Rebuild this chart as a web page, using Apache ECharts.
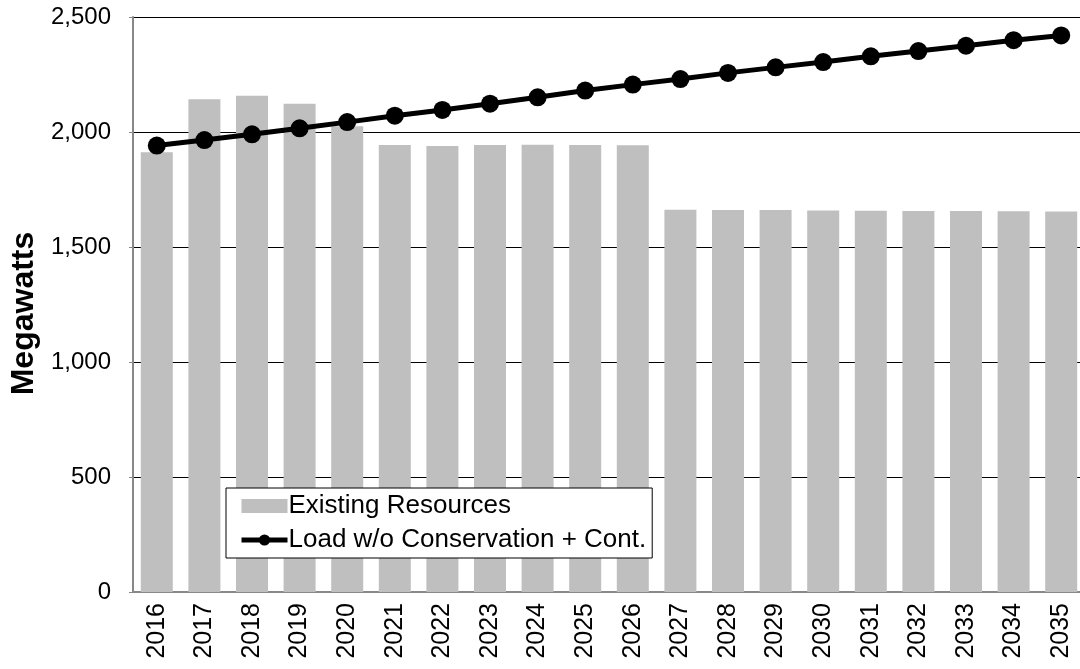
<!DOCTYPE html>
<html>
<head>
<meta charset="utf-8">
<script src="https://cdn.jsdelivr.net/npm/echarts@6/dist/echarts.min.js"></script>
<style>
  html, body { margin: 0; padding: 0; background: #fff; }
  #main { width: 1080px; height: 669px; }
</style>
</head>
<body>
<div id="main"></div>
<script>
var years = ['2016', '2017', '2018', '2019', '2020', '2021', '2022', '2023', '2024', '2025',
             '2026', '2027', '2028', '2029', '2030', '2031', '2032', '2033', '2034', '2035'];
// existing resources (MW)
var existing = [1912, 2142, 2158, 2123, 2025, 1943, 1939, 1943, 1945, 1943,
                1942, 1662, 1661, 1661, 1659, 1658, 1657, 1657, 1655, 1654];
// load w/o conservation + contingency (MW)
var load = [1941, 1965, 1990, 2016, 2043, 2071, 2096, 2123, 2151, 2180,
            2206, 2230, 2257, 2281, 2304, 2329, 2352, 2375, 2399, 2420];
var yTicks = [0, 500, 1000, 1500, 2000, 2500];

var myChart = echarts.init(document.getElementById('main'));
var font = 'Liberation Sans, Arial, sans-serif';

myChart.setOption({
    animation: false,
    backgroundColor: '#fff',
    textStyle: { fontFamily: font },
    grid: {
        left: 133,
        right: -5,
        top: 17,
        bottom: 77,
        outerBoundsMode: 'none',
        containLabel: false
    },
    legend: {
        left: 226,
        top: 488,
        orient: 'vertical',
        backgroundColor: '#fff',
        borderColor: '#000',
        borderWidth: 1,
        borderRadius: 0,
        padding: [5, 6, 5, 13],
        itemGap: 8,
        itemWidth: 46,
        itemHeight: 14,
        textStyle: { color: '#000', fontSize: 26, fontFamily: font, padding: [0, 0, 0, -4] },
        data: [
            { name: 'Existing Resources', icon: 'rect' },
            {
                name: 'Load w/o Conservation + Cont.',
                lineStyle: { width: 5, color: '#000' },
                itemStyle: { color: '#000' }
            }
        ]
    },
    xAxis: {
        type: 'category',
        data: years,
        axisLine: { lineStyle: { color: '#888', width: 2 } },
        axisTick: { show: false },
        axisLabel: {
            rotate: 90,
            color: '#000',
            fontSize: 25,
            fontFamily: font,
            margin: 11
        }
    },
    yAxis: {
        type: 'value',
        min: 0,
        max: 2500,
        interval: 500,
        name: 'Megawatts',
        nameLocation: 'middle',
        nameGap: 87,
        nameTextStyle: {
            color: '#000', fontSize: 32, fontWeight: 'bold', fontFamily: font,
            padding: [0, 18, 0, 0]
        },
        axisLine: { show: true, lineStyle: { color: '#888', width: 2 } },
        axisTick: { show: true, length: 4, lineStyle: { color: '#888' } },
        axisLabel: {
            color: '#000',
            fontSize: 24,
            fontFamily: font,
            margin: 22,
            formatter: function (v) {
                return yTicks.indexOf(v) >= 0 ? v.toLocaleString('en-US') : '';
            }
        },
        splitLine: { show: true, lineStyle: { color: '#000', width: 1 } }
    },
    series: [
        {
            name: 'Existing Resources',
            type: 'bar',
            data: existing,
            barWidth: 32,
            itemStyle: { color: '#bfbfbf' }
        },
        {
            name: 'Load w/o Conservation + Cont.',
            type: 'line',
            data: load,
            symbol: 'circle',
            symbolSize: 18,
            lineStyle: { color: '#000', width: 5 },
            itemStyle: { color: '#000' }
        }
    ]
});
</script>
</body>
</html>
